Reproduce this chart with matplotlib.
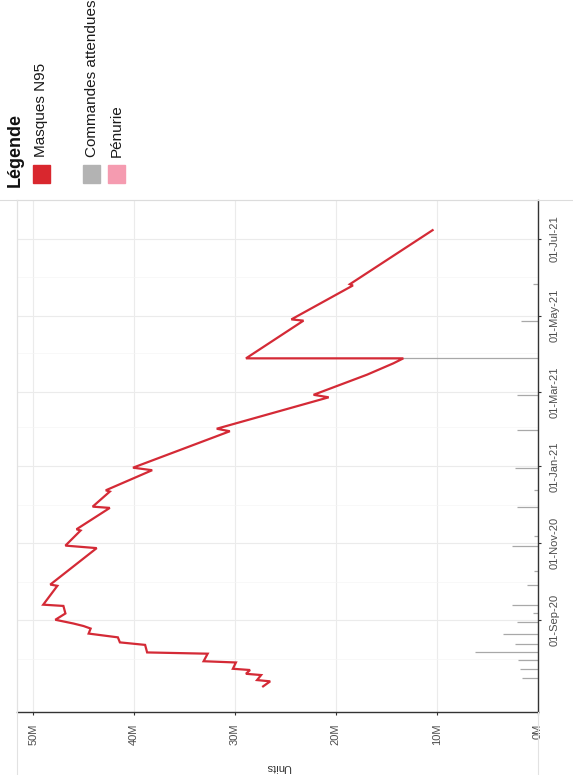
import matplotlib
matplotlib.use("Agg")
import matplotlib.pyplot as plt
import matplotlib.dates as mdates
from matplotlib.patches import Rectangle
from matplotlib.lines import Line2D
from matplotlib.ticker import FuncFormatter
import numpy as np
import pandas as pd

plt.rcParams['font.family'] = ['Liberation Sans', 'DejaVu Sans']

# stock de masques N95, en millions d'unites
stock_dates = ["2020-07-10", "2020-07-14", "2020-07-15", "2020-07-19", "2020-07-20",
               "2020-07-23", "2020-07-24", "2020-07-29", "2020-07-30", "2020-08-05",
               "2020-08-06", "2020-08-12", "2020-08-14", "2020-08-18", "2020-08-21",
               "2020-08-25", "2020-08-27", "2020-08-29", "2020-09-01", "2020-09-06",
               "2020-09-12", "2020-09-13", "2020-09-28", "2020-09-29", "2020-10-28",
               "2020-10-30", "2020-11-11", "2020-11-12", "2020-11-29", "2020-11-30",
               "2020-12-12", "2020-12-13", "2020-12-29", "2020-12-31", "2021-01-29",
               "2021-01-31", "2021-02-25", "2021-02-27", "2021-03-15", "2021-03-24",
               "2021-03-28", "2021-03-28", "2021-04-27", "2021-04-28", "2021-05-25",
               "2021-05-26", "2021-07-08"]
stock_millions = [27.2, 26.5, 27.8, 27.4, 28.9,
                  28.5, 30.2, 29.9, 33.1, 32.7,
                  38.7, 38.9, 41.4, 41.6, 44.5,
                  44.3, 45.0, 46.0, 47.8, 46.8,
                  47.0, 49.0, 47.6, 48.3, 43.7,
                  46.8, 45.3, 45.7, 42.4, 44.1,
                  42.4, 42.8, 38.2, 40.1, 30.5,
                  31.8, 20.7, 22.2, 16.9, 14.3,
                  13.3, 28.9, 23.2, 24.4, 18.3,
                  18.6, 10.4]

# commandes attendues (millions)
cmd_dates = ["2020-07-17", "2020-07-24", "2020-07-31", "2020-08-06", "2020-08-13",
             "2020-08-21", "2020-08-30", "2020-09-06", "2020-09-13", "2020-09-29",
             "2020-10-10", "2020-10-30", "2020-11-07", "2020-11-30", "2020-12-13",
             "2020-12-31", "2021-01-30", "2021-02-27", "2021-03-28", "2021-04-27",
             "2021-05-26"]
cmd_millions = [1.5, 1.7, 1.9, 6.2, 2.2,
                3.4, 2.0, 0.4, 2.5, 1.0,
                0.3, 2.5, 0.3, 2.0, 0.3,
                2.2, 2.0, 2.0, 15.6, 1.6,
                0.4]

value_ticks = [0, 10, 20, 30, 40, 50]
date_ticks = ["2020-09-01", "2020-11-01", "2021-01-01", "2021-03-01", "2021-05-01", "2021-07-01"]
date_minor = ["2020-08-01", "2020-10-01", "2020-12-01", "2021-02-01", "2021-04-01", "2021-06-01"]

legend_labels = ["Masques N95", "Commandes attendues", "Pénurie"]
legend_colors = ["#d9272e", "#b3b3b3", "#f59bb0"]

W, H = 573, 775
fig = plt.figure(figsize=(W / 100, H / 100), dpi=100)


def fx(x):
    return x / W


def fy(y):
    return 1 - y / H


ax = fig.add_axes([fx(17), fy(711.5), fx(537.5) - fx(17), fy(200) - fy(711.5)])

d_stock = mdates.date2num(pd.to_datetime(stock_dates))
d_cmd = mdates.date2num(pd.to_datetime(cmd_dates))

ax.hlines(d_cmd, 0, np.array(cmd_millions) * 1e6, color='#a8a8a8', lw=0.9, zorder=2)
ax.plot(np.array(stock_millions) * 1e6, d_stock, color='#d42a36', lw=1.6, zorder=3,
        solid_joinstyle='miter')

ax.set_xlim(51.6e6, 0)
ax.set_ylim(mdates.date2num(pd.Timestamp("2020-06-20")), mdates.date2num(pd.Timestamp("2021-08-01")))

ax.set_xticks([v * 1e6 for v in value_ticks])
ax.xaxis.set_major_formatter(FuncFormatter(lambda v, p: f"{v / 1e6:.0f}M"))
ax.yaxis.tick_right()
ax.set_yticks(mdates.date2num(pd.to_datetime(date_ticks)))
ax.set_yticks(mdates.date2num(pd.to_datetime(date_minor)), minor=True)
ax.yaxis.set_major_formatter(mdates.DateFormatter("%d-%b-%y"))

ax.tick_params(axis='x', labelrotation=90, labelsize=8, labelcolor='#4d4d4d',
               length=2.5, color='#333333', pad=6)
ax.tick_params(axis='y', labelrotation=90, labelsize=8, labelcolor='#4d4d4d',
               length=2.5, color='#333333', pad=6)
ax.tick_params(which='minor', length=0)
for lab in ax.get_yticklabels():
    lab.set_va('center')

ax.grid(True, which='major', color='#ebebeb', lw=0.8, zorder=0)
ax.grid(True, which='minor', axis='y', color='#f5f5f5', lw=0.5, zorder=0)
ax.set_axisbelow(True)

for s in ['top', 'left']:
    ax.spines[s].set_color('#dcdcdc')
    ax.spines[s].set_linewidth(0.8)
for s in ['bottom', 'right']:
    ax.spines[s].set_color('#333333')
    ax.spines[s].set_linewidth(1.0)

fig.text(fx(278), fy(767), "Units", rotation=180, ha='center', va='center',
         fontsize=8, color='#333333')

# lignes de fond
fig.add_artist(Line2D([0, 1], [fy(200), fy(200)], color='#dcdcdc', lw=0.8))
fig.add_artist(Line2D([fx(17), fx(17)], [fy(200), 0], color='#e2e2e2', lw=0.8))
fig.add_artist(Line2D([fx(537.5), fx(537.5)], [fy(712), 0], color='#e2e2e2', lw=0.8))

# legende
fig.text(fx(15), fy(187), "Légende", rotation=90, ha='center', va='bottom',
         fontsize=13, fontweight='bold', color='#111111')
key_x = [33, 83, 108]
for kx, lab, col in zip(key_x, legend_labels, legend_colors):
    fig.add_artist(Rectangle((fx(kx), fy(183)), 17 / W, 18 / H, color=col,
                             transform=fig.transFigure))
    fig.text(fx(kx + 8.5), fy(157), lab, rotation=90, ha='center', va='bottom',
             fontsize=11, color='#1a1a1a')

fig.savefig("out.png", dpi=100)
